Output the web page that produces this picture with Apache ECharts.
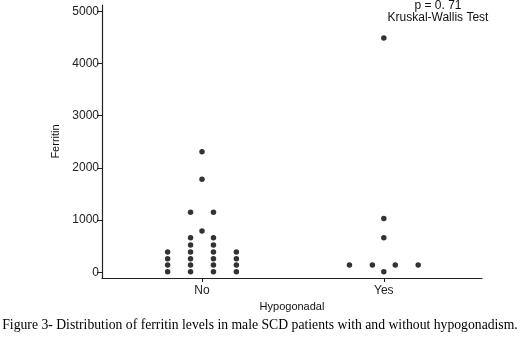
<!DOCTYPE html>
<html>
<head>
<meta charset="utf-8">
<script src="https://cdn.jsdelivr.net/npm/echarts@6/dist/echarts.min.js"></script>
<style>
  html, body { margin: 0; padding: 0; background: #fff; }
  #chart { width: 520px; height: 343px; }
</style>
</head>
<body>
<div id="chart"></div>
<script>
// Ferritin dot plot by hypogonadal status
const groups = ['No', 'Yes'];
const ferritinNo = [10, 10, 10, 10, 140, 140, 140, 140, 260, 260, 260, 260, 390, 390, 390, 390,
  520, 520, 660, 660, 790, 1150, 1150, 1780, 2310];
const ferritinYes = [10, 140, 140, 140, 140, 660, 1030, 4490];
const yTicks = [0, 1000, 2000, 3000, 4000, 5000];
const pText = 'p = 0. 71';
const testText = 'Kruskal-Wallis Test';
const caption = 'Figure 3- Distribution of ferritin levels in male SCD patients with and without hypogonadism.';

const DOT_STEP = 0.063; // horizontal spread of equal values (dot plot)

// identical values sit side by side, centred on the group position
function dotLayout(values, groupX) {
  const counts = {};
  values.forEach((v) => { counts[v] = (counts[v] || 0) + 1; });
  const seen = {};
  return values.map((v) => {
    const n = counts[v];
    const i = seen[v] = (seen[v] || 0);
    seen[v]++;
    return [groupX + (2 * i - (n - 1)) * DOT_STEP, v];
  });
}

const font = 'Liberation Sans, Arial, sans-serif';
const chart = echarts.init(document.getElementById('chart'), null, { renderer: 'canvas' });

chart.setOption({
  animation: false,
  backgroundColor: '#fff',
  textStyle: { fontFamily: font },
  grid: { left: 102, right: 38, top: 5, bottom: 65, containLabel: false },
  xAxis: {
    type: 'value',
    min: 0.45,
    max: 2.54,
    name: 'Hypogonadal',
    nameLocation: 'middle',
    nameGap: 22,
    nameTextStyle: { color: '#111', fontSize: 11, fontFamily: font },
    axisLine: { show: true, onZero: false, lineStyle: { color: '#222', width: 1.2 } },
    axisTick: { show: true, length: 4, customValues: [1, 2], lineStyle: { color: '#222' } },
    axisLabel: {
      customValues: [1, 2],
      color: '#222', fontSize: 12, margin: 7,
      formatter: (v) => groups[Math.round(v) - 1]
    },
    splitLine: { show: false }
  },
  yAxis: {
    type: 'value',
    min: -110,
    max: 5120,
    name: 'Ferritin',
    nameLocation: 'middle',
    nameGap: 30,
    nameTextStyle: { color: '#111', fontSize: 11, fontFamily: font },
    axisLine: { show: true, onZero: false, lineStyle: { color: '#222', width: 1.2 } },
    axisTick: { show: true, length: 5, customValues: yTicks, lineStyle: { color: '#222' } },
    axisLabel: { customValues: yTicks, color: '#222', fontSize: 12, margin: 3, formatter: (v) => String(v) },
    splitLine: { show: false }
  },
  series: [
    {
      name: groups[0],
      type: 'scatter',
      symbolSize: 5.5,
      itemStyle: { color: '#000' },
      data: dotLayout(ferritinNo, 1)
    },
    {
      name: groups[1],
      type: 'scatter',
      symbolSize: 5.5,
      itemStyle: { color: '#000' },
      data: dotLayout(ferritinYes, 2)
    }
  ],
  graphic: [
    {
      type: 'text', x: 438, y: 6,
      style: { text: pText, align: 'center', verticalAlign: 'middle', font: '12px ' + font, fill: '#111' }
    },
    {
      type: 'text', x: 438, y: 18,
      style: { text: testText, align: 'center', verticalAlign: 'middle', font: '12px ' + font, fill: '#111' }
    },
    {
      type: 'text', x: 260, y: 325,
      style: {
        text: caption, align: 'center', verticalAlign: 'middle',
        font: '13.7px Liberation Serif, Times New Roman, serif', fill: '#000'
      }
    }
  ]
});
</script>
</body>
</html>
